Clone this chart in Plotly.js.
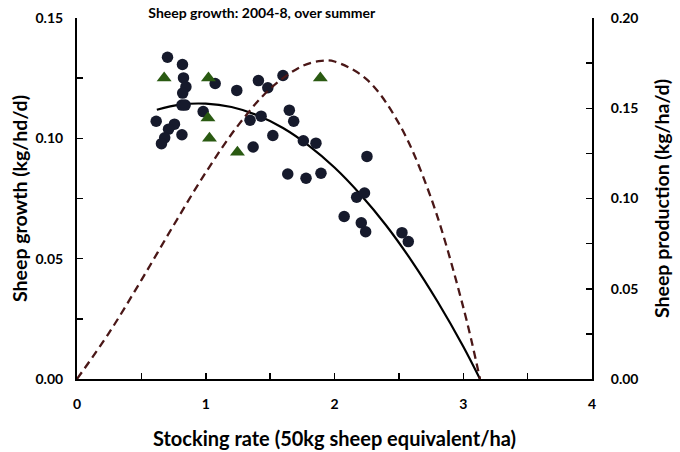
<!DOCTYPE html>
<html><head><meta charset="utf-8">
<script src="https://cdn.plot.ly/plotly-3.0.1.min.js"></script>
<style>html,body{margin:0;padding:0;background:#fff}#chart{width:680px;height:452px}</style>
</head><body><div id="chart"></div>
<script>
// Observed sheep growth (circles)
const obsX = [0.703,0.819,0.827,0.846,0.821,0.815,0.840,0.615,0.757,0.711,0.681,0.656,0.815,0.980,1.073,1.241,1.409,1.482,1.600,1.344,1.430,1.521,1.368,1.649,1.683,1.758,1.856,1.637,1.779,1.895,2.252,2.172,2.233,2.075,2.208,2.242,2.524,2.573];
const obsY = [0.1337,0.1307,0.1251,0.1214,0.1188,0.1138,0.1138,0.1071,0.1059,0.1038,0.1002,0.0978,0.1015,0.1111,0.1228,0.1199,0.1240,0.1210,0.1261,0.1075,0.1092,0.1012,0.0964,0.1117,0.1071,0.0990,0.0980,0.0852,0.0834,0.0855,0.0925,0.0755,0.0773,0.0675,0.0649,0.0612,0.0608,0.0571];
// Second group (triangles)
const triX = [0.677,1.021,1.017,1.029,1.246,1.890];
const triY = [0.1251,0.1251,0.1085,0.1000,0.0942,0.1251];
// Fitted growth curve (solid, left axis)
const fitX = [0.62,0.8,1.0,1.2,1.4,1.6,1.8,2.0,2.2,2.4,2.6,2.8,3.0,3.13];
const fitY = [0.1119,0.1140,0.1144,0.1130,0.1096,0.1043,0.0970,0.0879,0.0768,0.0639,0.0490,0.0322,0.0135,0.0];
// Production curve (dashed, right axis)
const prodX = [0,0.25,0.5,0.75,1.0,1.25,1.5,1.75,1.9,2.0,2.25,2.5,2.75,3.0,3.13];
const prodY = [0,0.0257,0.0548,0.0851,0.1144,0.1404,0.1608,0.1734,0.1763,0.1759,0.1660,0.1416,0.1003,0.0398,0];

const xTicks = [0,1,2,3,4];
const xTickText = ['0','1','2','3','4'];
const yTicks = [0,0.05,0.10,0.15];
const yTickText = ['0.00','0.05','0.10','0.15'];
const y2Ticks = [0,0.05,0.10,0.15,0.20];
const y2TickText = ['0.00','0.05','0.10','0.15','0.20'];

const F = 'Lato, "Open Sans", sans-serif';
const tf = {family:F, size:14, color:'#000', weight:700};

const traces = [
  {x:prodX, y:prodY, yaxis:'y2', mode:'lines', line:{color:'#4a1717', width:2.3, dash:'8px,5px', shape:'spline'}},
  {x:fitX, y:fitY, mode:'lines', line:{color:'#000', width:2.2, shape:'spline'}},
  {x:obsX, y:obsY, mode:'markers', marker:{symbol:'circle', size:11.5, color:'#161a2c'}},
  {x:triX, y:triY, mode:'markers', marker:{symbol:'triangle-up', size:13, color:'#2a5a12'}}
];

const layout = {
  width:680, height:452, showlegend:false,
  paper_bgcolor:'#fff', plot_bgcolor:'#fff',
  margin:{l:77, r:88, t:18, b:73},
  title:{text:'<b>Sheep growth: 2004-8, over summer</b>', font:{family:F, size:14, color:'#000'}, xref:'container', x:0.385, xanchor:'center', yref:'container', y:0.972, yanchor:'middle'},
  xaxis:{range:[0,4], tickvals:xTicks, ticktext:xTickText, showgrid:false, zeroline:false,
    showline:true, linecolor:'#000', linewidth:2, ticks:'inside', ticklen:6, tickwidth:1.5, tickcolor:'#000',
    minor:{dtick:0.5, ticks:'inside', ticklen:6, tickwidth:1.5, tickcolor:'#000', showgrid:false},
    tickfont:tf, ticklabelstandoff:11,
    title:{text:'<b>Stocking rate (50kg sheep equivalent/ha)</b>', font:{family:F, size:20, color:'#000'}, standoff:21}},
  yaxis:{range:[0,0.15], tickvals:yTicks, ticktext:yTickText, showgrid:false, zeroline:false,
    showline:true, linecolor:'#000', linewidth:2, ticks:'inside', ticklen:6, tickwidth:1.5, tickcolor:'#000',
    minor:{dtick:0.025, ticks:'inside', ticklen:6, tickwidth:1.5, tickcolor:'#000', showgrid:false},
    tickfont:tf, ticklabelstandoff:9,
    title:{text:'<b>Sheep growth (kg/hd/d)</b>', font:{family:F, size:19.5, color:'#000'}, standoff:3}},
  yaxis2:{range:[0,0.20], overlaying:'y', side:'right', tickvals:y2Ticks, ticktext:y2TickText, showgrid:false, zeroline:false,
    showline:true, linecolor:'#000', linewidth:2, ticks:'inside', ticklen:6, tickwidth:1.5, tickcolor:'#000',
    minor:{dtick:0.025, ticks:'inside', ticklen:6, tickwidth:1.5, tickcolor:'#000', showgrid:false},
    tickfont:tf, ticklabelstandoff:14,
    title:{text:'<b>Sheep production (kg/ha/d)</b>', font:{family:F, size:19.5, color:'#000'}, standoff:18}}
};
Plotly.newPlot('chart', traces, layout, {displayModeBar:false, staticPlot:true});
</script></body></html>
